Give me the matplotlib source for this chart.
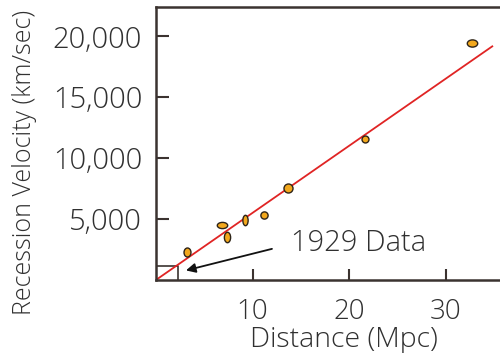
import matplotlib.pyplot as plt
from matplotlib.path import Path
from matplotlib.transforms import Affine2D

# Data (Hubble diagram)
distance_mpc = [3.2, 6.8, 7.3, 9.2, 11.2, 13.7, 21.6, 32.7]
velocity_kms = [2300, 4500, 3500, 4950, 5350, 7550, 11550, 19450]
fit_x = [0, 34.8]
slope = 551  # km/s per Mpc
box_x = 2.25
box_y = 1170
y_ticks = [5000, 10000, 15000, 20000]
y_tick_labels = ['5,000', '10,000', '15,000', '20,000']
x_ticks = [10, 20, 30]

# marker shape per point (width, height) in points
shapes = [(5.0, 6.5), (7.5, 4.5), (4.5, 7.5), (3.8, 7.5), (5.2, 5.2), (6.5, 6.5), (5.0, 5.0), (7.5, 5.2)]

TEXT = '#303030'
SPINE = '#3b3330'
RED = '#e02424'
ORANGE = '#f2a81d'

plt.rcParams['font.family'] = ['Open Sans', 'DejaVu Sans']

fig = plt.figure(figsize=(5.0, 3.53), dpi=100)
ax = fig.add_axes([0.312, 0.207, 0.688, 0.773])

ax.plot(fit_x, [slope * x for x in fit_x], color=RED, linewidth=1.3, zorder=2)

circle = Path.unit_circle()
for x, y, (w, h) in zip(distance_mpc, velocity_kms, shapes):
    m = circle.transformed(Affine2D().scale(w / max(w, h), h / max(w, h)))
    ax.plot(x, y, marker=m, markersize=max(w, h), color=ORANGE,
            markeredgecolor='#2e2418', markeredgewidth=1.0, linestyle='none', zorder=3)

# 1929 data box
ax.plot([0, box_x, box_x], [box_y, box_y, 0], color=SPINE, linewidth=1.2, zorder=1)

ax.text(14.0, 3000, '1929 Data', fontsize=21, color=TEXT, va='center', ha='left',
        fontweight='light')
ax.annotate('', xy=(3.1, 780), xytext=(12.0, 2550),
            arrowprops=dict(arrowstyle='-|>', color='#111111', lw=1.3,
                            mutation_scale=14, shrinkA=0, shrinkB=0))

ax.set_xlim(0, 35.6)
ax.set_ylim(0, 22400)
ax.set_xticks(x_ticks)
ax.set_yticks(y_ticks)
ax.set_yticklabels(y_tick_labels)

ax.spines['right'].set_visible(False)
for s in ['left', 'top', 'bottom']:
    ax.spines[s].set_color(SPINE)
    ax.spines[s].set_linewidth(1.8)

ax.tick_params(axis='y', direction='in', length=9, width=1.5, color=SPINE,
               labelsize=21, labelcolor=TEXT, pad=10)
ax.tick_params(axis='x', direction='in', length=8, width=1.5, color=SPINE,
               labelsize=20, labelcolor=TEXT, pad=13)
for lab in ax.get_xticklabels() + ax.get_yticklabels():
    lab.set_fontweight('light')

ax.set_xlabel('Distance (Mpc)', fontsize=20.5, color=TEXT, fontweight='light', labelpad=0)
ax.xaxis.label.set_x(0.547)
ax.set_ylabel('Recession Velocity (km/sec)', fontsize=18, color=TEXT, fontweight='light')
ax.yaxis.set_label_coords(-0.346, 0.43)

fig.savefig('out.png', dpi=100)
